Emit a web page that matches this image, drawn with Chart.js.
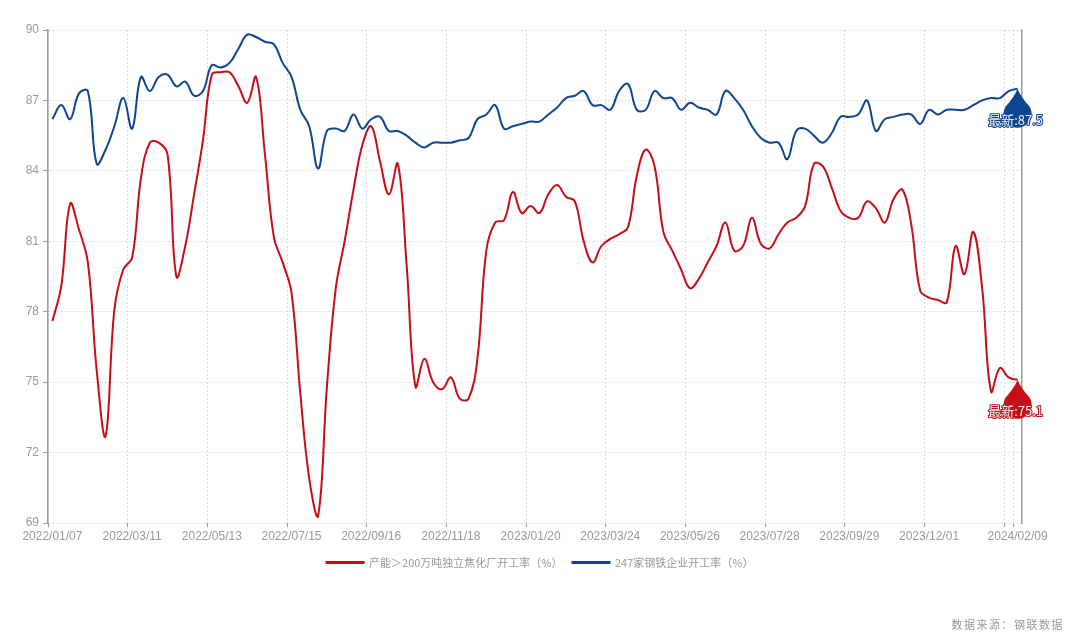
<!DOCTYPE html>
<html>
<head>
<meta charset="utf-8">
<script src="https://cdn.jsdelivr.net/npm/chart.js@4.4.1/dist/chart.umd.min.js"></script>
<style>
  html, body { margin: 0; padding: 0; background: #fff; }
  #wrap { position: relative; width: 1080px; height: 640px; }
  #source {
    position: absolute; right: 16px; top: 616px;
    font: 11px "Noto Sans CJK SC", sans-serif; color: #999; letter-spacing: 1.5px;
  }
</style>
</head>
<body>
<div id="wrap">
  <canvas id="graph" width="1080" height="640"></canvas>
  <div id="source">数据来源：钢联数据</div>
</div>
<script>
// weekly dates, first and last shown on the axis
const startDate = '2022/01/07';
const weekCount = 110;
const cokeLabel = '产能＞200万吨独立焦化厂开工率（%）';
const steelLabel = '247家钢铁企业开工率（%）';

const cokeRate = [
  77.6, 79.1, 82.6, 81.5, 80.1, 75.5, 72.7, 78.1, 79.8, 80.3,
  83.7, 85.2, 85.2, 84.7, 79.5, 80.8, 83.0, 85.3, 88.1, 88.2,
  88.2, 87.6, 86.9, 88.0, 84.7, 81.2, 80.1, 78.8, 74.5, 70.9,
  69.3, 74.8, 79.0, 81.0, 83.2, 85.1, 85.9, 84.4, 83.0, 84.3,
  80.0, 74.8, 76.0, 75.0, 74.7, 75.2, 74.3, 74.3, 76.0, 80.6,
  81.8, 81.9, 83.1, 82.2, 82.5, 82.2, 83.0, 83.4, 82.9, 82.7,
  81.0, 80.1, 80.8, 81.1, 81.3, 81.6, 83.8, 84.9, 84.2, 81.4,
  80.6, 79.8, 79.0, 79.4, 80.1, 80.8, 81.8, 80.6, 80.8, 82.0,
  80.9, 80.7, 81.3, 81.8, 82.0, 82.5, 84.3, 84.2, 83.3, 82.3,
  82.0, 82.0, 82.7, 82.4, 81.8, 82.8, 83.2, 81.7, 78.9, 78.6,
  78.5, 78.4, 80.8, 79.6, 81.4, 79.0, 74.6, 75.6, 75.2, 75.1
];

const steelRate = [
  86.2, 86.8, 86.2, 87.3, 87.4, 84.3, 84.9, 85.9, 87.1, 85.8,
  88.0, 87.4, 88.0, 88.1, 87.6, 87.8, 87.2, 87.4, 88.5, 88.4,
  88.6, 89.2, 89.8, 89.7, 89.5, 89.4, 88.6, 88.0, 86.6, 85.9,
  84.1, 85.7, 85.8, 85.7, 86.4, 85.8, 86.2, 86.3, 85.7, 85.7,
  85.5, 85.2, 85.0, 85.2, 85.2, 85.2, 85.3, 85.4, 86.2, 86.4,
  86.8, 85.8, 85.9, 86.0, 86.1, 86.1, 86.4, 86.7, 87.1, 87.2,
  87.4, 86.8, 86.8, 86.6, 87.4, 87.7, 86.6, 86.6, 87.4, 87.1,
  87.1, 86.6, 86.9, 86.7, 86.6, 86.4, 87.4, 87.1, 86.6, 85.9,
  85.4, 85.2, 85.2, 84.5, 85.7, 85.8, 85.5, 85.2, 85.6, 86.3,
  86.3, 86.4, 87.0, 85.7, 86.2, 86.3, 86.4, 86.4, 86.0, 86.6,
  86.4, 86.6, 86.6, 86.6, 86.8, 87.0, 87.1, 87.1, 87.4, 87.5
];

const yTicks = [69, 72, 75, 78, 81, 84, 87, 90];

function pad(n) { return n < 10 ? '0' + n : '' + n; }
let weeks = [];
let d = new Date(startDate.replace(/\//g, '-') + 'T00:00:00');
for (let i = 0; i < weekCount; i++) {
    weeks.push(d.getFullYear() + '/' + pad(d.getMonth() + 1) + '/' + pad(d.getDate()));
    d.setDate(d.getDate() + 7);
}

// grid line every 9th week plus the last one
function shownTick(i) {
    return i % 9 === 0 || i >= weekCount - 2;
}
// the 9th-week label next to the last one is dropped (would overlap)
function labelTick(i) {
    return (i % 9 === 0 && i < weekCount - 9) || i === weekCount - 1;
}

const red = '#c80d17';
const blue = '#0d4593';
const gridColor = '#d9d9d9';
const axisGrey = '#9a9a9a';

// the "最新" drop markers at the last point of each line
const latestPlugin = {
    id: 'latest',
    afterDatasetsDraw(chart) {
        const ctx = chart.ctx;
        ctx.save();
        chart.data.datasets.forEach(function(ds, k) {
            const meta = chart.getDatasetMeta(k);
            const pt = meta.data[meta.data.length - 1];
            const value = ds.data[ds.data.length - 1];
            const x = pt.x, y = pt.y;
            const r = 14, cy = y + 25;
            ctx.fillStyle = ds.borderColor;
            ctx.beginPath();
            ctx.moveTo(x, y);
            ctx.quadraticCurveTo(x + 3, y + 8, x + r * 0.87, cy - r * 0.5);
            ctx.arc(x, cy, r, -Math.PI / 6, Math.PI + Math.PI / 6, false);
            ctx.quadraticCurveTo(x - 3, y + 8, x, y);
            ctx.closePath();
            ctx.fill();

            ctx.font = '13px "Noto Sans CJK SC", sans-serif';
            ctx.textAlign = 'center';
            ctx.textBaseline = 'middle';
            const txt = '最新:' + value.toFixed(1);
            ctx.lineWidth = 2;
            ctx.strokeStyle = ds.borderColor;
            ctx.lineJoin = 'round';
            ctx.strokeText(txt, x - 2, cy + 6);
            ctx.fillStyle = '#eef1f6';
            ctx.fillText(txt, x - 2, cy + 6);
        });
        ctx.restore();
    }
};

let canvas = document.getElementById('graph').getContext('2d');
let chart = new Chart(canvas, {
    type: 'line',
    data: {
        labels: weeks,
        datasets: [
            {
                label: cokeLabel,
                data: cokeRate,
                borderColor: red,
                backgroundColor: red,
                borderWidth: 2,
                pointRadius: 0,
                tension: 0.4,
                fill: false
            },
            {
                label: steelLabel,
                data: steelRate,
                borderColor: blue,
                backgroundColor: blue,
                borderWidth: 2,
                pointRadius: 0,
                tension: 0.4,
                fill: false
            }
        ]
    },
    options: {
        responsive: false,
        animation: false,
        devicePixelRatio: 1,
        layout: {
            padding: { top: 30, right: 0, left: 0, bottom: 62 }
        },
        scales: {
            x: {
                offset: true,
                grid: {
                    offset: true,
                    color: (c) => shownTick(c.index) ? gridColor : 'transparent',
                    tickColor: (c) => shownTick(c.index) ? axisGrey : 'transparent',
                    tickLength: 4,
                    tickBorderDash: []
                },
                border: { display: false, dash: [2, 2] },
                ticks: {
                    autoSkip: false,
                    maxRotation: 0,
                    minRotation: 0,
                    padding: 2,
                    color: '#999',
                    font: { family: '"Liberation Sans", Arial, sans-serif', size: 12 },
                    callback: function(val, i) {
                        return labelTick(i) ? weeks[i] : '';
                    }
                },
                afterFit: function(scale) { scale.height = 24; }
            },
            y: {
                min: yTicks[0],
                max: yTicks[yTicks.length - 1],
                afterBuildTicks: function(scale) {
                    scale.ticks = yTicks.map(v => ({ value: v }));
                },
                grid: {
                    color: gridColor,
                    tickColor: axisGrey,
                    tickLength: 5,
                    tickBorderDash: []
                },
                border: { display: true, color: axisGrey, width: 1.5, dash: [2, 2] },
                ticks: {
                    padding: 4,
                    color: '#999',
                    font: { family: '"Liberation Sans", Arial, sans-serif', size: 12 }
                },
                afterFit: function(scale) { scale.width = 48; }
            },
            // right-hand frame line only
            yRight: {
                position: 'right',
                min: yTicks[0],
                max: yTicks[yTicks.length - 1],
                grid: { drawOnChartArea: false, drawTicks: false },
                border: { display: true, color: axisGrey, width: 1.5 },
                ticks: { display: false },
                afterFit: function(scale) { scale.width = 58; }
            }
        },
        plugins: {
            legend: {
                position: 'bottom',
                labels: {
                    boxWidth: 37,
                    boxHeight: 1,
                    padding: 10,
                    color: '#999',
                    font: { family: '"Noto Sans CJK SC", sans-serif', size: 11 }
                }
            },
            tooltip: { enabled: false }
        }
    },
    plugins: [latestPlugin]
});
</script>
</body>
</html>
